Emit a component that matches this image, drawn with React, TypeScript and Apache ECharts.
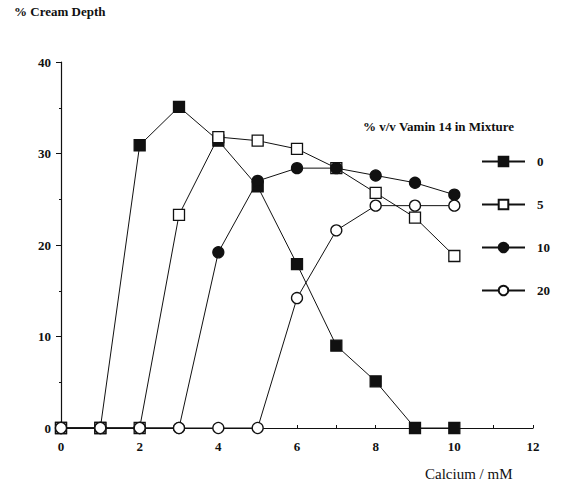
import React, { useEffect, useRef } from "react";
import * as echarts from "echarts";

const calcium = [0, 1, 2, 3, 4, 5, 6, 7, 8, 9, 10];
const vamin0 = [0, 0, 30.9, 35.1, 31.4, 26.4, 17.9, 9.0, 5.1, 0, 0];
const vamin5 = [0, 0, 0, 23.3, 31.8, 31.4, 30.5, 28.4, 25.7, 23.0, 18.8];
const vamin10 = [0, 0, 0, 0, 19.2, 27.0, 28.4, 28.4, 27.6, 26.8, 25.5];
const vamin20 = [0, 0, 0, 0, 0, 0, 14.2, 21.6, 24.3, 24.3, 24.3];
const seriesNames = ["0", "5", "10", "20"];

const FONT = "'Liberation Serif', 'Times New Roman', serif";

export default function App() {
  const ref = useRef<HTMLDivElement>(null);
  useEffect(() => {
    if (!ref.current) return;
    const chart = echarts.init(ref.current, undefined, { renderer: "svg" });
    const mk = (name: string, vals: number[], symbol: string, filled: boolean, z: number) => ({
      name,
      type: "line",
      data: calcium.map((c, i) => [c, vals[i]]),
      symbol,
      symbolSize: 11,
      showSymbol: true,
      z,
      lineStyle: { color: "#111", width: 1 },
      itemStyle: { color: filled ? "#111" : "#fff", borderColor: "#111", borderWidth: 1.3 },
      emphasis: { disabled: true },
    });
    chart.setOption({
      animation: false,
      backgroundColor: "#fff",
      textStyle: { fontFamily: FONT },
      title: {
        text: "% Cream Depth",
        left: 9,
        top: 0,
        textStyle: { fontFamily: FONT, fontSize: 13, fontWeight: "bold", color: "#111" },
      },
      grid: { left: 61, right: 31, top: 62, bottom: 60, containLabel: false },
      legend: {
        orient: "vertical",
        left: 481,
        top: 155,
        width: 80,
        padding: 0,
        itemWidth: 43,
        itemHeight: 12,
        itemGap: 30,
        data: seriesNames,
        textStyle: {
          fontFamily: FONT,
          fontSize: 13,
          fontWeight: "bold",
          color: "#111",
          padding: [0, 0, 0, 7],
          width: 30,
          overflow: "none",
        },
      },
      xAxis: {
        type: "value",
        min: 0,
        max: 12,
        interval: 1,
        axisLine: { lineStyle: { color: "#111", width: 1.2 } },
        axisTick: { show: true, inside: true, length: 3, lineStyle: { color: "#111" } },
        splitLine: { show: false },
        axisLabel: {
          margin: 12,
          fontFamily: FONT,
          fontSize: 13,
          fontWeight: "bold",
          color: "#111",
          formatter: (v: number) => (v % 2 === 0 ? String(v) : ""),
        },
      },
      yAxis: {
        type: "value",
        min: 0,
        max: 40,
        interval: 10,
        axisLine: { show: true, lineStyle: { color: "#111", width: 1.2 } },
        axisTick: { show: true, length: 5, lineStyle: { color: "#111" } },
        minorTick: { show: true, splitNumber: 2, length: 2, lineStyle: { color: "#111" } },
        splitLine: { show: false },
        axisLabel: { margin: 10, fontFamily: FONT, fontSize: 13, fontWeight: "bold", color: "#111" },
      },
      graphic: [
        {
          type: "text",
          left: 363,
          top: 120,
          style: { text: "% v/v Vamin 14 in Mixture", font: `bold 13px ${FONT}`, fill: "#111" },
        },
        {
          type: "text",
          left: 425,
          top: 466,
          style: { text: "Calcium / mM", font: `15px ${FONT}`, fill: "#111" },
        },
      ],
      series: [
        mk("0", vamin0, "rect", true, 2),
        mk("5", vamin5, "rect", false, 3),
        mk("10", vamin10, "circle", true, 4),
        mk("20", vamin20, "circle", false, 5),
      ],
    });
    return () => chart.dispose();
  }, []);
  return <div ref={ref} style={{ position: "fixed", left: 0, top: 0, width: 564, height: 488 }} />;
}
